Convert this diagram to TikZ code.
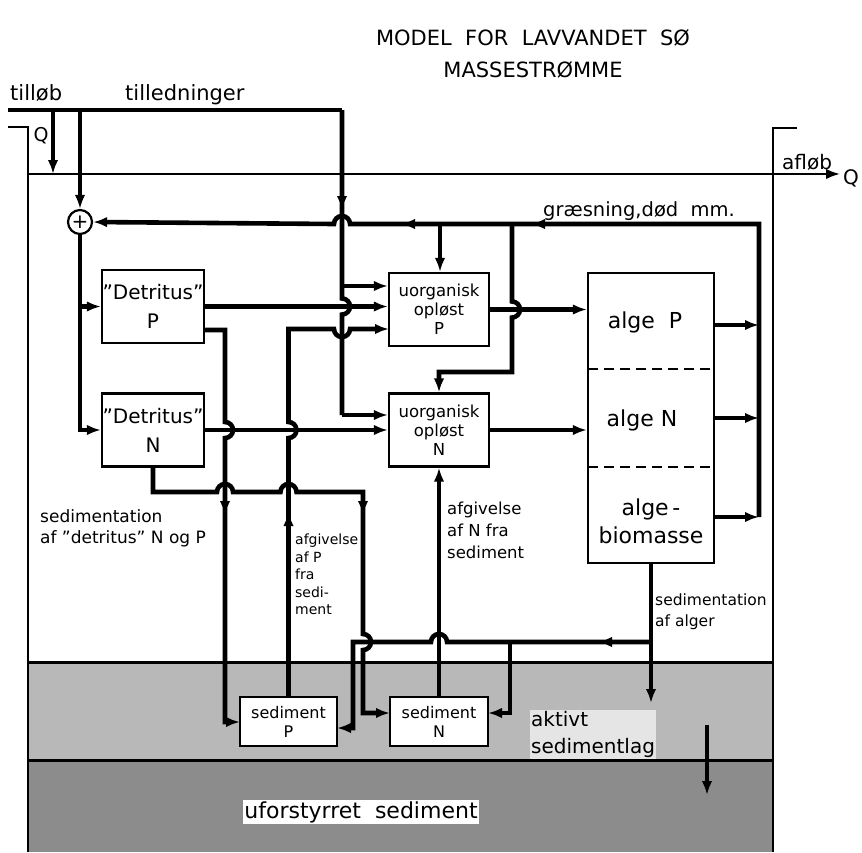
\documentclass[tikz,border=0pt]{standalone}
\usepackage{fontspec}
\setmainfont{DejaVu Sans}
\usetikzlibrary{arrows.meta}
\begin{document}
\begin{tikzpicture}[x=1pt,y=-1pt,
  flow/.style={line width=4.6pt},
  arr/.style={-{Latex[length=14pt,width=10.5pt]}},
  box/.style={draw,line width=2.2pt,fill=white,inner sep=0pt,align=center},
  wall/.style={line width=2.6pt},
  lab/.style={inner sep=0pt,anchor=north west,align=left},
]
\useasboundingbox (0,0) rectangle (862,852);
% sediment layers
\fill[black!28] (28,662) rectangle (773,760);
\fill[black!45] (28,760) rectangle (773,852);
\draw[line width=3pt] (28,662) -- (773,662);
\draw[line width=3pt] (28,760) -- (773,760);
% walls
\draw[wall] (8,127) -- (28,127) -- (28,852);
\draw[wall] (797,128) -- (773,128) -- (773,852);
% water surface and outflow
\coordinate (sL) at (28,174);
\coordinate (sR) at (840,174);
\draw[line width=2.2pt,arr] (sL) -- (sR);

% titles and labels
\node[font=\fontsize{21}{21}\selectfont] (title1) at (533,38) {MODEL\ \ FOR\ \ LAVVANDET\ \ SØ};
\node[font=\fontsize{21}{21}\selectfont] (title2) at (533,70) {MASSESTRØMME};
\node[inner sep=0pt,anchor=base west,font=\fontsize{21}{21}\selectfont] (tillob) at (10,100) {tilløb};
\node[inner sep=0pt,anchor=base west,font=\fontsize{21}{21}\selectfont] (tilled) at (125,100) {tilledninger};
\node[font=\fontsize{19}{19}\selectfont] (qin) at (41,136) {Q};
\node[inner sep=0pt,anchor=base west,font=\fontsize{20}{20}\selectfont] (aflob) at (782,169) {afløb};
\node[font=\fontsize{20}{20}\selectfont] (qout) at (851,178) {Q};
\node[inner sep=0pt,anchor=base west,font=\fontsize{19.5}{19.5}\selectfont] (graes) at (543,216) {græsning,død\ \ mm.};

% boxes
\node[draw,circle,line width=2.2pt,minimum size=24pt,inner sep=0pt,font=\fontsize{20}{20}\selectfont] (circ) at (80,222) {+};
\node[box,minimum width=102pt,minimum height=73pt,font=\fontsize{20}{29}\selectfont] (detP) at (153,306.5) {”Detritus”\\P};
\node[box,minimum width=102pt,minimum height=73pt,font=\fontsize{20}{29}\selectfont] (detN) at (153,430) {”Detritus”\\N};
\node[box,minimum width=100pt,minimum height=73pt,font=\fontsize{16.5}{19}\selectfont] (uorgP) at (439,309.5) {uorganisk\\opløst\\P};
\node[box,minimum width=100pt,minimum height=73pt,font=\fontsize{16.5}{19}\selectfont] (uorgN) at (439,430) {uorganisk\\opløst\\N};
\node[box,minimum width=126pt,minimum height=290pt] (alge) at (651,418) {};
\node[font=\fontsize{22}{22}\selectfont] (algeP) at (645,322) {alge\ \ P};
\node[font=\fontsize{22}{22}\selectfont] (algeN) at (642,420) {alge N};
\node[align=center,font=\fontsize{22}{28}\selectfont] (algeB) at (651,521) {alge\,-\\biomasse};
\node[box,minimum width=97pt,minimum height=49pt,font=\fontsize{16}{19}\selectfont] (sedP) at (288.5,721.5) {sediment\\P};
\node[box,minimum width=98pt,minimum height=49pt,font=\fontsize{16}{19}\selectfont] (sedN) at (439,721.5) {sediment\\N};

% dashed dividers in alge box
\coordinate (d1) at (588,369);
\coordinate (d2) at (588,467);
\draw[line width=2pt,dash pattern=on 10pt off 6pt] (d1) -- (d1 -| alge.east);
\draw[line width=2pt,dash pattern=on 10pt off 6pt] (d2) -- (d2 -| alge.east);

% flow labels
\node[lab,font=\fontsize{17}{21}\selectfont] (lsed) at (40,509) {sedimentation\\af ”detritus” N og P};
\node[lab,font=\fontsize{14}{17.5}\selectfont] (lafgP) at (295,534) {afgivelse\\af P\\fra\\sedi-\\ment};
\node[lab,font=\fontsize{16.5}{22}\selectfont] (lafgN) at (447,502) {afgivelse\\af N fra\\sediment};
\node[lab,font=\fontsize{15.5}{21}\selectfont] (lsedA) at (655,594) {sedimentation\\af alger};
\node[lab,fill=black!10,inner sep=1pt,font=\fontsize{20}{27}\selectfont] (aktiv) at (530,710) {aktivt\\sedimentlag};
\node[fill=white,inner sep=1pt,font=\fontsize{22}{22}\selectfont] (ufor) at (361,812) {uforstyrret\ \ sediment};

% coordinates
\coordinate (tl) at (8,110);
\coordinate (tQ) at (53,110);
\coordinate (tT) at (80,110);
\coordinate (tk) at (342,110);
\coordinate (k1) at (342,286);
\coordinate (k2) at (342,415);
\coordinate (fbR) at (759,224);
\coordinate (fb1) at (440,224);
\coordinate (fb2) at (512,224);
\coordinate (colB) at (759,517);
\coordinate (ao1) at (714,325);
\coordinate (ao2) at (714,418);
\coordinate (ao3) at (714,517);
\coordinate (cdP) at (80,306.5);
\coordinate (cdN) at (80,430);
\coordinate (dP2) at (204,330);
\coordinate (c225) at (225,330);
\coordinate (sPw) at (240,722);
\coordinate (sPe) at (337,728);
\coordinate (sNw) at (390,713);
\coordinate (sNe) at (488,713);
\coordinate (as1) at (651,642);
\coordinate (as2) at (510,642);
\coordinate (bur1) at (707,725);
\coordinate (bur2) at (707,795);

% inflow
\draw[flow] (tl) -- (tk);
\draw[flow,arr] (tQ) -- (tQ |- sL);
\draw[flow,arr] (tT) -- (circ.north);
\draw[flow,arr] (circ.south) -- (cdN) -- (detN.west);
\draw[flow,arr] (cdP) -- (detP.west);

% tilledninger to dissolved pools
\draw[flow] (tk) -- (342,298.5) arc[start angle=-90,end angle=90,radius=8] -- (k2);
\draw[flow,arr] (tk) -- (342,210);
\draw[flow,arr] (k1) -- (k1 -| uorgP.west);
\draw[flow,arr] (k2) -- (k2 -| uorgN.west);

% feedback (grazing, death)
\draw[flow,arr] (colB) -- (fbR) -- (350,224) arc[start angle=0,end angle=-180,radius=8] -- (circ.east);
\draw[flow,arr] (fbR) -- (531,224);
\draw[flow,arr] (fb1) -- (401,224);
\draw[flow,arr] (fb1) -- (fb1 |- uorgP.north);
\draw[flow,arr] (fb2) -- (512,301.5) arc[start angle=-90,end angle=90,radius=8] -- (512,372) -- (439,372) -- (uorgN.north);

% uptake by algae
\draw[flow,arr] (uorgP.east) -- (uorgP.east -| alge.west);
\draw[flow,arr] (uorgN.east) -- (uorgN.east -| alge.west);
\draw[flow,arr] (ao1) -- (ao1 -| colB);
\draw[flow,arr] (ao2) -- (ao2 -| colB);
\draw[flow,arr] (ao3) -- (ao3 -| colB);

% detritus to dissolved
\draw[flow,arr] (detP.east) -- (detP.east -| uorgP.west);
\draw[flow,arr] (detN.east) -- (uorgN.west);

% detritus P sedimentation
\draw[flow,arr] (dP2) -- (c225) -- (225,422) arc[start angle=-90,end angle=90,radius=8] -- (c225 |- sPw) -- (sPw);
\draw[flow,arr] (225,470) -- (225,515);

% release of P from sediment
\draw[flow,arr] (sedP.north) -- (288.5,438) arc[start angle=90,end angle=-90,radius=8] -- (288.5,329) -- (334,329) arc[start angle=180,end angle=0,radius=8] -- (389,329);
\draw[flow,arr] (sedP.north) -- (288.5,512);

% detritus N sedimentation
\draw[flow,arr] (detN.south) -- (153,492) -- (217,492) arc[start angle=180,end angle=360,radius=8] -- (280.5,492) arc[start angle=180,end angle=360,radius=8] -- (363,492) -- (363,634) arc[start angle=-90,end angle=90,radius=8] -- (363,713) -- (sNw);
\draw[flow,arr] (363,492) -- (363,515);

% algae sedimentation
\draw[flow,arr] (alge.south) -- (651,703);
\draw[flow,arr] (as1) -- (447,642) arc[start angle=0,end angle=-180,radius=8] -- (353,642) -- (353,728) -- (sPe);
\draw[flow,arr] (as1) -- (598,642);
\draw[flow,arr] (as2) -- (510,713) -- (sNe);

% release of N from sediment
\draw[flow,arr] (sedN.north) -- (uorgN.south);

% burial
\draw[flow,arr] (bur1) -- (bur2);
\end{tikzpicture}
\end{document}
